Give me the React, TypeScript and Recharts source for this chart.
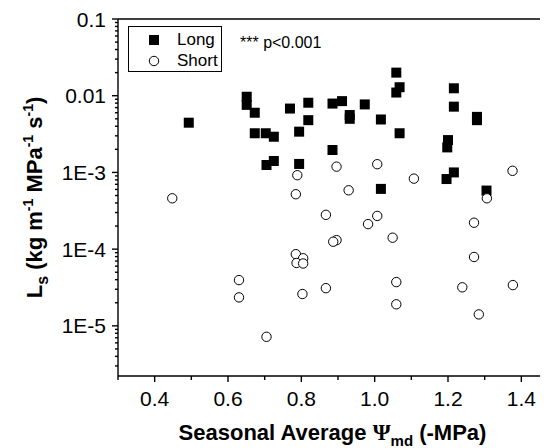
import React from 'react';
import { ScatterChart, Scatter, XAxis, YAxis, Legend } from 'recharts';

// Seasonal average Ψmd (-MPa) and Ls values
const longX = [0.493, 0.651, 0.651, 0.673, 0.673, 0.703, 0.725, 0.705, 0.725, 0.769, 0.819, 0.819, 0.794, 0.794, 0.885, 0.911, 0.885, 0.932, 0.932, 0.973, 1.017, 1.017, 1.059, 1.068, 1.059, 1.068, 1.2, 1.198, 1.196, 1.216, 1.216, 1.216, 1.279, 1.279, 1.305];
const longY = [4.45e-3, 9.7e-3, 7.6e-3, 6.0e-3, 3.24e-3, 3.24e-3, 2.92e-3, 1.25e-3, 1.41e-3, 6.8e-3, 8.1e-3, 4.8e-3, 3.4e-3, 1.29e-3, 7.9e-3, 8.5e-3, 1.96e-3, 5.6e-3, 5.0e-3, 7.7e-3, 4.9e-3, 6.1e-4, 0.02, 0.0129, 0.011, 3.24e-3, 2.64e-3, 2.12e-3, 8.2e-4, 1.0e-3, 0.0125, 7.2e-3, 5.3e-3, 4.8e-3, 5.8e-4];

const shortX = [0.448, 0.63, 0.63, 0.705, 0.789, 0.785, 0.785, 0.805, 0.787, 0.805, 0.803, 0.867, 0.867, 0.896, 0.896, 0.887, 0.929, 0.982, 1.007, 1.007, 1.049, 1.059, 1.059, 1.107, 1.239, 1.271, 1.271, 1.284, 1.306, 1.376, 1.377];
const shortY = [4.6e-4, 3.95e-5, 2.35e-5, 7.2e-6, 9.2e-4, 5.2e-4, 8.6e-5, 7.6e-5, 6.6e-5, 6.5e-5, 2.6e-5, 2.8e-4, 3.1e-5, 1.19e-3, 1.31e-4, 1.25e-4, 5.85e-4, 2.12e-4, 1.28e-3, 2.71e-4, 1.41e-4, 3.72e-5, 1.91e-5, 8.3e-4, 3.18e-5, 2.21e-4, 7.9e-5, 1.41e-5, 4.6e-4, 1.05e-3, 3.4e-5];

const seriesNames = ['Long', 'Short'];
const annotation = '*** p<0.001';

const xMajorTicks = [0.4, 0.6, 0.8, 1.0, 1.2, 1.4];
const xTickLabels = ['0.4', '0.6', '0.8', '1.0', '1.2', '1.4'];
const xMinorTicks = [0.3, 0.5, 0.7, 0.9, 1.1, 1.3];
const yMajorTicks = [0.1, 0.01, 0.001, 0.0001, 0.00001];
const yTickLabels = ['0.1', '0.01', '1E-3', '1E-4', '1E-5'];
const yMinorMultipliers = [2, 3, 4, 5, 6, 7, 8, 9];

const xDomain = [0.3, 1.47];
const yDomain = [2.22e-6, 0.1];

const longData = longX.map((x, i) => ({ x, y: longY[i] }));
const shortData = shortX.map((x, i) => ({ x, y: shortY[i] }));

const xTicks = [...xMinorTicks, ...xMajorTicks].sort((a, b) => a - b);
const yTicks: number[] = [];
[1e-6, 1e-5, 1e-4, 1e-3, 1e-2].forEach((d) => {
  yMinorMultipliers.forEach((m) => {
    const v = d * m;
    if (v >= yDomain[0] && v <= yDomain[1]) yTicks.push(v);
  });
});
yMajorTicks.forEach((v) => yTicks.push(v));
yTicks.sort((a, b) => a - b);

const FONT = "'Liberation Sans', Arial, sans-serif";
const AX = 1.4;

const findIdx = (arr: number[], v: number) => arr.findIndex((a) => Math.abs(a - v) / a < 1e-6);

const BottomTick = (props: any) => {
  const { x, y, payload } = props;
  const i = findIdx(xMajorTicks, payload.value);
  const major = i >= 0;
  return (
    <g>
      <line x1={x} x2={x} y1={y} y2={y + (major ? 6 : 4)} stroke="#000" strokeWidth={AX} />
      {major && (
        <text x={x} y={y + 30} textAnchor="middle" fontSize={21} fontFamily={FONT} fill="#000">
          {xTickLabels[i]}
        </text>
      )}
    </g>
  );
};

const TopTick = (props: any) => {
  const { x, y, payload } = props;
  const major = findIdx(xMajorTicks, payload.value) >= 0;
  return <line x1={x} x2={x} y1={y} y2={y + (major ? 6 : 4)} stroke="#000" strokeWidth={AX} />;
};

const LeftTick = (props: any) => {
  const { x, y, payload } = props;
  const i = findIdx(yMajorTicks, payload.value);
  const major = i >= 0;
  return (
    <g>
      <line x1={x} x2={x - (major ? 6 : 3)} y1={y} y2={y} stroke="#000" strokeWidth={AX} />
      {major && (
        <text x={x - 12} y={y + 7.5} textAnchor="end" fontSize={21} fontFamily={FONT} fill="#000">
          {yTickLabels[i]}
        </text>
      )}
    </g>
  );
};

const XTitle = (props: any) => {
  const vb = props.viewBox || {};
  const cx = vb.x + vb.width / 2;
  const by = vb.y + 64;
  return (
    <text x={cx} y={by} textAnchor="middle" fontSize={22} fontWeight="bold" fontFamily={FONT} fill="#000">
      Seasonal Average{' '}
      <tspan fontFamily="'Liberation Serif', serif" fontSize={23}>Ψ</tspan>
      <tspan dy={6} fontSize={15}>md</tspan>
      <tspan dy={-6}> (-MPa)</tspan>
    </text>
  );
};

const YTitle = (props: any) => {
  const vb = props.viewBox || {};
  const cx = 34;
  const cy = vb.y + vb.height / 2;
  return (
    <text
      x={cx}
      y={cy}
      textAnchor="middle"
      transform={`rotate(-90, ${cx}, ${cy})`}
      fontSize={22}
      fontWeight="bold"
      fontFamily={FONT}
      fill="#000"
    >
      L<tspan dy={6} fontSize={16}>s</tspan>
      <tspan dy={-6}> (kg m</tspan>
      <tspan dy={-9} fontSize={14}>-1</tspan>
      <tspan dy={9}> MPa</tspan>
      <tspan dy={-9} fontSize={14}>-1</tspan>
      <tspan dy={9}> s</tspan>
      <tspan dy={-9} fontSize={14}>-1</tspan>
      <tspan dy={9}>)</tspan>
    </text>
  );
};

const LegendBox = (props: any) => {
  const payload = props.payload || [];
  return (
    <div
      style={{
        position: 'relative',
        width: 94,
        height: 46,
        boxSizing: 'border-box',
        border: '1.4px solid #000',
        background: '#fff',
        fontFamily: FONT,
        fontSize: 17,
        color: '#000',
      }}
    >
      {payload.map((entry: any, i: number) => {
        const isLong = entry.value === seriesNames[0];
        const top = i === 0 ? 13 : 34;
        return (
          <div key={entry.value} style={{ position: 'absolute', left: 0, top: top - 10, height: 20, width: 94 }}>
            <svg width={12} height={12} style={{ position: 'absolute', left: 19, top: 4 }}>
              {isLong ? (
                <rect x={1} y={1} width={10} height={10} fill="#000" />
              ) : (
                <circle cx={6} cy={6} r={4.7} fill="#fff" stroke="#000" strokeWidth={1} />
              )}
            </svg>
            <span style={{ position: 'absolute', left: 48, top: 0, lineHeight: '20px' }}>{entry.value}</span>
          </div>
        );
      })}
    </div>
  );
};

const SquareShape = (p: any) => <rect x={p.cx - 5} y={p.cy - 5} width={10} height={10} fill="#000" />;
const CircleShape = (p: any) => <circle cx={p.cx} cy={p.cy} r={4.7} fill="#fff" stroke="#000" strokeWidth={1} />;

export default function App() {
  return (
    <div style={{ position: 'relative', width: 540, height: 440 }}>
      <ScatterChart width={540} height={440} margin={{ top: 1, right: 1, bottom: 0, left: 0 }}>
        <XAxis
          xAxisId="bottom"
          dataKey="x"
          type="number"
          domain={xDomain}
          allowDataOverflow
          ticks={xTicks}
          interval={0}
          tickLine={false}
          tickSize={0}
          tickMargin={0}
          tick={<BottomTick />}
          axisLine={{ stroke: '#000', strokeWidth: AX }}
          height={72}
          label={<XTitle />}
        />
        <XAxis
          xAxisId="top"
          orientation="top"
          type="number"
          domain={xDomain}
          allowDataOverflow
          ticks={xTicks}
          interval={0}
          tickLine={false}
          tickSize={0}
          tickMargin={0}
          tick={<TopTick />}
          axisLine={{ stroke: '#000', strokeWidth: AX }}
          height={10}
        />
        <YAxis
          dataKey="y"
          type="number"
          scale="log"
          domain={yDomain}
          allowDataOverflow
          ticks={yTicks}
          interval={0}
          tickLine={false}
          tickSize={0}
          tickMargin={0}
          tick={<LeftTick />}
          axisLine={{ stroke: '#000', strokeWidth: AX }}
          width={110}
          label={<YTitle />}
        />
        <Legend
          layout="vertical"
          align="center"
          verticalAlign="middle"
          content={<LegendBox />}
          wrapperStyle={{ left: 120, top: 18, width: 94, height: 46 }}
        />
        <Scatter
          name={seriesNames[0]}
          data={longData}
          xAxisId="bottom"
          fill="#000"
          shape={SquareShape}
          isAnimationActive={false}
        />
        <Scatter
          name={seriesNames[1]}
          data={shortData}
          xAxisId="bottom"
          fill="#fff"
          shape={CircleShape}
          isAnimationActive={false}
        />
      </ScatterChart>
      <div
        style={{
          position: 'absolute',
          left: 232,
          top: 25,
          fontFamily: FONT,
          fontSize: 16,
          lineHeight: '20px',
          color: '#000',
          whiteSpace: 'pre',
        }}
      >
        {annotation}
      </div>
    </div>
  );
}
